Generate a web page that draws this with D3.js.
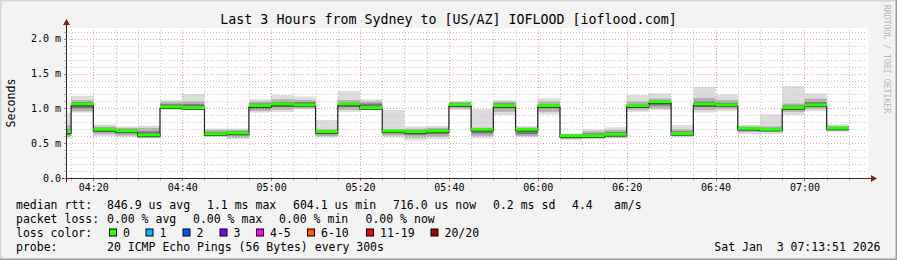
<!DOCTYPE html>
<html>
<head>
<meta charset="utf-8">
<script src="https://cdn.jsdelivr.net/npm/d3@7"></script>
<style>
  body { margin: 0; background: #f3f3f3; }
  svg { display: block; }
  text { font-family: "DejaVu Sans Mono", monospace; fill: #000; white-space: pre; }
</style>
</head>
<body>
<script>
// ---- data ----
const title = "Last 3 Hours from Sydney to [US/AZ] IOFLOOD [ioflood.com]";
const day = "2026-01-03";
const startTime = "04:13:51";
const endTime = "07:13:51";

// 5 minute steps (start time of each step), median rtt in ms
const stepStart = ["04:10","04:15","04:20","04:25","04:30","04:35","04:40","04:45","04:50","04:55",
                   "05:00","05:05","05:10","05:15","05:20","05:25","05:30","05:35","05:40","05:45",
                   "05:50","05:55","06:00","06:05","06:10","06:15","06:20","06:25","06:30","06:35",
                   "06:40","06:45","06:50","06:55","07:00","07:05"];
const median = [0.665,1.062,0.700,0.675,0.617,1.020,1.010,0.632,0.646,1.040,
                1.062,1.048,0.665,1.062,1.010,0.675,0.665,0.675,1.053,0.700,
                1.040,0.700,1.040,0.607,0.607,0.627,1.040,1.096,0.640,1.062,
                1.048,0.713,0.700,1.010,1.048,0.716];
// smoke: outer (min/max ping), middle band, inner core
const smokeLo = [0.57,0.94,0.60,0.585,0.57,0.976,1.00,0.59,0.56,0.94,
                 0.95,0.986,0.58,0.95,1.00,0.58,0.54,0.556,0.976,0.57,
                 0.905,0.585,0.914,0.54,0.556,0.57,0.95,0.976,0.58,0.94,
                 0.962,0.632,0.632,0.905,0.962,0.665];
const smokeHi = [0.94,1.18,0.77,0.74,0.75,1.12,1.206,0.71,0.71,1.13,
                 1.19,1.17,0.833,1.25,1.13,0.976,0.74,0.75,1.10,0.986,
                 1.115,0.747,1.144,0.64,0.70,0.728,1.19,1.216,0.76,1.31,
                 1.20,0.76,0.914,1.32,1.216,0.77];
const midLo = [0.59,0.96,0.63,0.61,0.59,0.99,1.00,0.60,0.58,0.96,
               0.98,1.00,0.60,0.98,1.00,0.61,0.58,0.59,1.00,0.60,
               0.95,0.60,0.95,0.56,0.57,0.58,0.98,1.00,0.60,0.98,
               0.99,0.66,0.66,0.95,0.99,0.68];
const midHi = [0.76,1.12,0.74,0.72,0.72,1.09,1.10,0.69,0.69,1.10,
               1.13,1.12,0.70,1.12,1.10,0.70,0.71,0.72,1.09,0.72,
               1.10,0.72,1.10,0.63,0.67,0.69,1.10,1.14,0.70,1.15,
               1.12,0.74,0.74,1.07,1.14,0.75];
const coreLo = [0.62,1.00,0.66,0.64,0.60,1.00,1.005,0.61,0.61,0.99,
                1.02,1.02,0.63,1.02,1.005,0.64,0.62,0.63,1.02,0.64,
                1.00,0.63,1.00,0.58,0.59,0.60,1.01,1.04,0.62,1.02,
                1.02,0.69,0.68,0.99,1.02,0.70];
const coreHi = [0.70,1.09,0.72,0.70,0.67,1.06,1.06,0.66,0.67,1.07,
                1.09,1.09,0.68,1.08,1.07,0.69,0.69,0.70,1.08,0.70,
                1.07,0.70,1.06,0.61,0.64,0.66,1.06,1.11,0.67,1.10,
                1.08,0.73,0.72,1.04,1.09,0.73];

const yTicks = [0, 0.5, 1.0, 1.5, 2.0];
const yTickLabels = ["0.0", "0.5 m", "1.0 m", "1.5 m", "2.0 m"];
const xTickLabels = ["04:20","04:40","05:00","05:20","05:40","06:00","06:20","06:40","07:00"];

const lossLabels = ["0", "1", "2", "3", "4-5", "6-10", "11-19", "20/20"];
const lossColors = ["#26ff00", "#00b8ff", "#0059ff", "#7e00ff", "#ff00ff", "#ff5500", "#ff0000", "#a00000"];

const legendRtt = ["846.9 us avg", "1.1 ms max", "604.1 us min", "716.0 us now", "0.2 ms sd", "4.4", "am/s"];
const legendLoss = ["0.00 % avg", "0.00 % max", "0.00 % min", "0.00 % now"];
const probeText = "20 ICMP Echo Pings (56 Bytes) every 300s";
const stampText = "Sat Jan  3 07:13:51 2026";

// ---- layout ----
const width = 897, height = 260;
const plotLeft = 66, plotRight = 866, plotTop = 28, plotBottom = 178;

const parse = d3.utcParse("%Y-%m-%d %H:%M:%S");
const t = s => parse(`${day} ${s.length === 5 ? s + ":00" : s}`);
const step = 5 * 60 * 1000;

const x = d3.scaleUtc().domain([t(startTime), t(endTime)]).range([plotLeft, plotRight]);
const y = d3.scaleLinear().domain([0, 2.154]).range([plotBottom, plotTop]);

const steps = stepStart.map((s, i) => ({
  t0: t(s), t1: new Date(+t(s) + step),
  med: median[i], lo: smokeLo[i], hi: smokeHi[i],
  mlo: midLo[i], mhi: midHi[i], clo: coreLo[i], chi: coreHi[i]
}));

const svg = d3.select("body").append("svg")
  .attr("width", width).attr("height", height)
  .attr("viewBox", [0, 0, width, height]);

// background + frame
svg.append("rect").attr("width", width).attr("height", height).attr("fill", "#f3f3f3");
svg.append("path").attr("d", `M0,${height} V0 H${width}`).attr("fill", "none")
  .attr("stroke", "#d4d4d4").attr("stroke-width", 3);
svg.append("path").attr("d", `M0,${height} H${width} V0`).attr("fill", "none")
  .attr("stroke", "#9c9c9c").attr("stroke-width", 3);

// canvas
svg.append("rect")
  .attr("x", plotLeft).attr("y", plotTop)
  .attr("width", plotRight - plotLeft + 2).attr("height", plotBottom - plotTop)
  .attr("fill", "#fff");

svg.append("clipPath").attr("id", "plot")
  .append("rect").attr("x", plotLeft).attr("y", plotTop)
  .attr("width", plotRight - plotLeft).attr("height", plotBottom - plotTop);

// smoke
const smoke = svg.append("g").attr("clip-path", "url(#plot)");
const bands = [["lo", "hi", "#dcdcdc"], ["mlo", "mhi", "#b2b2b2"], ["clo", "chi", "#767676"]];
for (const [a, b, c] of bands) {
  smoke.append("g").attr("fill", c)
    .selectAll("rect").data(steps).join("rect")
    .attr("x", d => x(d.t0))
    .attr("width", d => x(d.t1) - x(d.t0))
    .attr("y", d => y(d[b]))
    .attr("height", d => y(d[a]) - y(d[b]));
}

// grid
const minorX = d3.utcMinute.every(5).range(x.domain()[0], x.domain()[1]);
const majorX = xTickLabels.map(t);
const isMajorX = d => majorX.some(m => +m === +d);
const minorY = d3.range(1, 22).map(i => i / 10).filter(v => y(v) >= plotTop);
const isMajorY = v => yTicks.some(m => Math.abs(m - v) < 1e-6);

const grid = svg.append("g").attr("stroke-width", 1).attr("stroke-dasharray", "1,2").attr("fill", "none");
grid.selectAll("line.mx").data(minorX.filter(d => !isMajorX(d))).join("line")
  .attr("x1", d => Math.round(x(d)) + 0.5).attr("x2", d => Math.round(x(d)) + 0.5)
  .attr("y1", plotBottom).attr("y2", plotTop).attr("stroke", "#c4c4c4");
grid.selectAll("line.my").data(minorY.filter(v => !isMajorY(v))).join("line")
  .attr("y1", d => Math.round(y(d)) + 0.5).attr("y2", d => Math.round(y(d)) + 0.5)
  .attr("x1", plotLeft).attr("x2", plotRight).attr("stroke", "#c4c4c4");
grid.selectAll("line.Mx").data(majorX).join("line")
  .attr("x1", d => Math.round(x(d)) + 0.5).attr("x2", d => Math.round(x(d)) + 0.5)
  .attr("y1", plotBottom).attr("y2", plotTop).attr("stroke", "#eb9a9a");
grid.selectAll("line.My").data(yTicks.filter(v => v > 0)).join("line")
  .attr("y1", d => Math.round(y(d)) + 0.5).attr("y2", d => Math.round(y(d)) + 0.5)
  .attr("x1", plotLeft).attr("x2", plotRight).attr("stroke", "#eb9a9a");

// median line + loss coloured band
const plot = svg.append("g").attr("clip-path", "url(#plot)");
const pts = steps.map(d => [d.t0, d.med]).concat([[steps[steps.length - 1].t1, median[median.length - 1]]]);
plot.append("path")
  .attr("fill", "none").attr("stroke", "#202020").attr("stroke-width", 1.2)
  .attr("transform", "translate(0,1.5)")
  .attr("d", d3.line().curve(d3.curveStepAfter).x(d => x(d[0])).y(d => y(d[1]))(pts));
plot.append("g").attr("fill", lossColors[0])
  .selectAll("rect").data(steps).join("rect")
  .attr("x", d => x(d.t0))
  .attr("width", d => x(d.t1) - x(d.t0))
  .attr("y", d => y(d.med) - 1.5)
  .attr("height", 3);

// axes
const axisColor = "#2a2a2a", arrowColor = "#8b1a1a";
svg.append("line").attr("x1", 62).attr("x2", plotRight + 6)
  .attr("y1", plotBottom + 0.5).attr("y2", plotBottom + 0.5).attr("stroke", axisColor);
svg.append("line").attr("x1", plotLeft + 0.5).attr("x2", plotLeft + 0.5)
  .attr("y1", plotBottom + 4).attr("y2", plotTop - 4).attr("stroke", axisColor);
svg.append("path").attr("fill", arrowColor)
  .attr("d", `M${plotRight + 5},${plotBottom - 3} L${plotRight + 11},${plotBottom + 0.5} L${plotRight + 5},${plotBottom + 4} Z`);
svg.append("path").attr("fill", arrowColor)
  .attr("d", `M${plotLeft - 3},${plotTop - 3} L${plotLeft + 0.5},${plotTop - 9} L${plotLeft + 4},${plotTop - 3} Z`);

// tick marks
svg.append("g").selectAll("line").data(minorX).join("line")
  .attr("x1", d => Math.round(x(d)) + 0.5).attr("x2", d => Math.round(x(d)) + 0.5)
  .attr("y1", plotBottom + 1).attr("y2", plotBottom + 3)
  .attr("stroke", d => isMajorX(d) ? "#d66" : "#bbb");
svg.append("g").selectAll("line").data(minorY.concat([0])).join("line")
  .attr("y1", d => Math.round(y(d)) + 0.5).attr("y2", d => Math.round(y(d)) + 0.5)
  .attr("x1", plotLeft - 2).attr("x2", plotLeft)
  .attr("stroke", d => isMajorY(d) ? "#d66" : "#bbb");

// tick labels
svg.append("g").attr("font-size", 10).attr("text-anchor", "end")
  .selectAll("text").data(yTicks).join("text")
  .attr("x", 61).attr("y", d => y(d) + 3.6)
  .text((d, i) => yTickLabels[i]);
svg.append("g").attr("font-size", 10).attr("text-anchor", "middle")
  .selectAll("text").data(xTickLabels).join("text")
  .attr("x", d => x(t(d)) + 0.5).attr("y", 191)
  .text(d => d);

// titles
svg.append("text").attr("x", width / 2).attr("y", 23.5).attr("text-anchor", "middle")
  .attr("font-size", 13.3).text(title);
svg.append("text").attr("transform", "translate(15,103) rotate(-90)")
  .attr("text-anchor", "middle").attr("font-size", 11.6).text("Seconds");
svg.append("text").attr("transform", "translate(884,59) rotate(90)")
  .attr("text-anchor", "middle").attr("font-size", 8.2).style("fill", "#b8b8b8")
  .text("RRDTOOL / TOBI OETIKER");

// legend
const lg = svg.append("g").attr("font-size", 11.5);
const row = [208.5, 222.5, 236.5, 250.5];
lg.append("text").attr("x", 16).attr("y", row[0]).text("median rtt:");
const rttX = [107, 207, 293, 393, 493, 572, 614];
legendRtt.forEach((s, i) => lg.append("text").attr("x", rttX[i]).attr("y", row[0]).text(s));
lg.append("text").attr("x", 16).attr("y", row[1]).text("packet loss:");
const lossX = [107, 193, 279, 365.5];
legendLoss.forEach((s, i) => lg.append("text").attr("x", lossX[i]).attr("y", row[1]).text(s));
lg.append("text").attr("x", 16).attr("y", row[2]).text("loss color:");
const boxX = [109, 145.5, 182.5, 219.5, 256, 307, 366, 430.5];
lossLabels.forEach((s, i) => {
  lg.append("rect").attr("x", boxX[i] + 0.5).attr("y", row[2] - 7.5)
    .attr("width", 7).attr("height", 7)
    .attr("fill", lossColors[i]).attr("stroke", "#000");
  lg.append("text").attr("x", boxX[i] + 14).attr("y", row[2]).text(s);
});
lg.append("text").attr("x", 16).attr("y", row[3]).text("probe:");
lg.append("text").attr("x", 107).attr("y", row[3]).text(probeText);
lg.append("text").attr("x", 880.5).attr("y", row[3]).attr("text-anchor", "end").text(stampText);
</script>
</body>
</html>
